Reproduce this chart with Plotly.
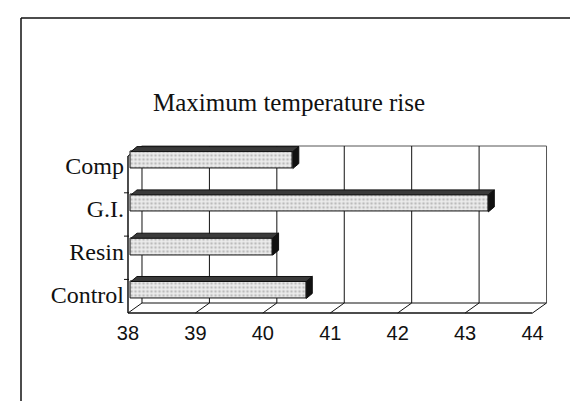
import plotly.graph_objects as go

# ---------------- data ----------------
categories = ["Control", "Resin", "G.I.", "Comp"]
values = [40.6, 40.1, 43.3, 40.4]
x_tick_values = [38, 39, 40, 41, 42, 43, 44]
title_text = "Maximum temperature rise"

# ---------------- geometry (pixels) ----------------
W, H = 578, 401
X_LO, X_HI = 37.8, 44.5
PX0, PXU = 120.0, 67.42          # pixel of value 38 on front plane, px per unit
Y_LO, Y_HI = -0.8, 3.8
PY0, PYU = 287.0, 43.3           # pixel of first category label, px per category

def xdom(shift):
    return [(PX0 + (X_LO - 38) * PXU + shift) / W, (PX0 + (X_HI - 38) * PXU + shift) / W]

def ydom(shift):
    return [1 - (PY0 - Y_LO * PYU - shift) / H, 1 - (PY0 - Y_HI * PYU - shift) / H]

DX = 14 / PXU          # depth offset of back wall (x units)
DY = 10 / PYU          # depth offset of back wall (y units)
FLOOR = -(305 - PY0) / PYU
TOP = (PY0 - 148) / PYU
BW = 17 / PYU          # bar front-face thickness
BDX = 6 / PXU          # bar depth
BDY = 5 / PYU

idx = list(range(len(categories)))

fig = go.Figure()

# front faces of bars
fig.add_trace(go.Bar(
    y=idx, x=[v - 38 for v in values], base=38, orientation="h", width=BW,
    xaxis="x2", yaxis="y2",
    marker=dict(color="#e4e4e4",
                pattern=dict(shape=".", fgcolor="#8a8a8a", bgcolor="#ececec", size=4, solidity=0.35),
                line=dict(color="#111111", width=1)),
    hoverinfo="skip", showlegend=False,
))

# top faces
tx, ty = [], []
for i, v in zip(idx, values):
    t = i + BW / 2
    tx += [38, v, v + BDX, 38 + BDX, 38, None]
    ty += [t, t, t + BDY, t + BDY, t, None]
fig.add_trace(go.Scatter(x=tx, y=ty, xaxis="x2", yaxis="y2", mode="lines", fill="toself",
                         fillcolor="#3a3a3a", line=dict(color="#111111", width=1),
                         hoverinfo="skip", showlegend=False))

# end caps
cx, cy = [], []
for i, v in zip(idx, values):
    t = i + BW / 2
    b = i - BW / 2
    cx += [v, v + BDX, v + BDX, v, v, None]
    cy += [b, b + BDY, t + BDY, t, b, None]
fig.add_trace(go.Scatter(x=cx, y=cy, xaxis="x2", yaxis="y2", mode="lines", fill="toself",
                         fillcolor="#111111", line=dict(color="#111111", width=1),
                         hoverinfo="skip", showlegend=False))

# invisible trace to establish front axes
fig.add_trace(go.Scatter(x=[38, 44], y=[0, 0], mode="markers", marker=dict(opacity=0),
                         hoverinfo="skip", showlegend=False))

# ---------------- 3D frame ----------------
shapes = []
def line(x0, y0, x1, y1, w=1, color="#111111"):
    shapes.append(dict(type="line", xref="x", yref="y", x0=x0, y0=y0, x1=x1, y1=y1,
                       line=dict(color=color, width=w), layer="below"))

# back wall
line(38 + DX, FLOOR + DY, 44 + DX, FLOOR + DY)
line(38 + DX, TOP + DY, 44 + DX, TOP + DY, color="#555555")
line(38 + DX, FLOOR + DY, 38 + DX, TOP + DY)
line(44 + DX, FLOOR + DY, 44 + DX, TOP + DY, color="#555555")
for v in x_tick_values[1:-1]:
    line(v + DX, FLOOR + DY, v + DX, TOP + DY)
# left wall
line(38, FLOOR, 38, TOP, w=1.5)
line(38, TOP, 38 + DX, TOP + DY)
# floor
line(38, FLOOR, 44, FLOOR, w=1.5)
for v in x_tick_values:
    line(v, FLOOR, v + DX, FLOOR + DY)
# small ticks on left wall between categories
for i in idx[:-1]:
    shapes.append(dict(type="line", xref="x", yref="y", x0=38 - 4 / PXU, x1=38 + 1 / PXU,
                       y0=i + 0.36, y1=i + 0.36, line=dict(color="#111111", width=1), layer="below"))

# outer border of the page
def pline(x0, y0, x1, y1):
    shapes.append(dict(type="line", xref="paper", yref="paper",
                       x0=x0 / W, y0=1 - y0 / H, x1=x1 / W, y1=1 - y1 / H,
                       line=dict(color="#111111", width=1.5)))
pline(13, 10, 578, 10)
pline(13, 10, 13, 401)
pline(575, 228, 575, 303)
pline(575, 333, 575, 401)

fig.update_layout(
    width=W, height=H, autosize=False,
    margin=dict(l=0, r=0, t=0, b=0),
    paper_bgcolor="white", plot_bgcolor="rgba(0,0,0,0)",
    shapes=shapes,
    xaxis=dict(domain=xdom(0), range=[X_LO, X_HI], anchor="free",
               position=1 - 305 / H, showgrid=False, zeroline=False, showline=False,
               tickmode="array", tickvals=x_tick_values, ticktext=[str(v) for v in x_tick_values],
               ticks="", ticklabelstandoff=6,
               tickfont=dict(family="Liberation Sans, Arial", size=20, color="#111111")),
    yaxis=dict(domain=ydom(0), range=[Y_LO, Y_HI], anchor="free", position=PX0 / W,
               showgrid=False, zeroline=False, showline=False,
               tickmode="array", tickvals=idx, ticktext=categories,
               ticks="", ticklabelstandoff=4,
               tickfont=dict(family="Liberation Serif, Times New Roman", size=24, color="#111111")),
    xaxis2=dict(domain=xdom(3), range=[X_LO, X_HI], anchor="y2", visible=False),
    yaxis2=dict(domain=ydom(5), range=[Y_LO, Y_HI], anchor="x2", visible=False),
    annotations=[dict(text=title_text, x=281 / W, y=1 - 94 / H, xref="paper", yref="paper",
                      showarrow=False, xanchor="center", yanchor="middle",
                      font=dict(family="Liberation Serif, Times New Roman", size=25, color="#111111"))],
    bargap=0,
)

fig.write_html("out.html")
